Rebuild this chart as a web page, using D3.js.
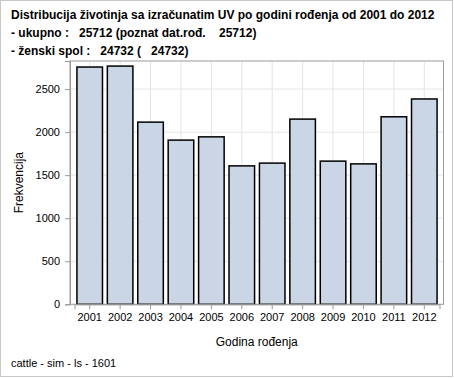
<!DOCTYPE html>
<html><head><meta charset="utf-8">
<script src="https://cdn.jsdelivr.net/npm/d3@7"></script>
<style>body{margin:0;background:#fff}svg{display:block}text{font-family:"Liberation Sans",Arial,sans-serif}</style>
</head><body>
<script>
const years = ["2001","2002","2003","2004","2005","2006","2007","2008","2009","2010","2011","2012"];
const counts = [2756,2767,2116,1907,1945,1608,1640,2151,1663,1631,2178,2385];
const yTicks = [0,500,1000,1500,2000,2500];
const titleLines = [
  "Distribucija životinja sa izračunatim UV po godini rođenja od 2001 do 2012",
  "- ukupno :   25712 (poznat dat.rođ.    25712)",
  "- ženski spol :   24732 (   24732)"
];
const footnote = "cattle - sim - ls - 1601";
const xTitle = "Godina rođenja";
const yTitle = "Frekvencija";

const W = 454, H = 378;
const L = 70, R = 443.5, T = 61, B = 304.3;
const svg = d3.select("body").append("svg").attr("width", W).attr("height", H);
svg.append("rect").attr("x",0.5).attr("y",0.5).attr("width",W-2).attr("height",H-2)
  .attr("fill","#fff").attr("stroke","#c8c8c8");

const x = d3.scaleBand().domain(years).range([L+4.5, R-4]).paddingInner(0.16).paddingOuter(0.08);
const y = d3.scaleLinear().domain([0, 2826]).range([B, T]);

// gridlines
const g = svg.append("g");
g.selectAll(".hg").data(yTicks).join("line")
  .attr("x1",L).attr("x2",R).attr("y1",d=>y(d)).attr("y2",d=>y(d))
  .attr("stroke","#e4e4e4").attr("stroke-width",1);
g.selectAll(".vg").data(years).join("line")
  .attr("x1",d=>x(d)+x.bandwidth()/2).attr("x2",d=>x(d)+x.bandwidth()/2)
  .attr("y1",T).attr("y2",B).attr("stroke","#e4e4e4").attr("stroke-width",1);

// bars
svg.append("g").selectAll("rect").data(years).join("rect")
  .attr("x",d=>x(d)).attr("width",x.bandwidth())
  .attr("y",(d,i)=>y(counts[i])).attr("height",(d,i)=>B-y(counts[i]))
  .attr("fill","#cad5e5").attr("stroke","#000").attr("stroke-width",1.5);

// frame
svg.append("rect").attr("x",L).attr("y",T).attr("width",R-L).attr("height",B-T)
  .attr("fill","none").attr("stroke","#9a9a9a").attr("stroke-width",1);

// axes
const xa = svg.append("g").attr("transform",`translate(0,${B})`)
  .call(d3.axisBottom(x).tickSize(5).tickPadding(4));
const ya = svg.append("g").attr("transform",`translate(${L},0)`)
  .call(d3.axisLeft(y).tickValues(yTicks).tickSize(5).tickPadding(5).tickFormat(d3.format("d")));
[xa,ya].forEach(a=>{
  a.select(".domain").attr("stroke","#9a9a9a");
  a.selectAll(".tick line").attr("stroke","#9a9a9a");
  a.selectAll("text").attr("font-size","11px").attr("fill","#000")
   .style("font-family",'"Liberation Sans",Arial,sans-serif');
});

// titles
svg.append("g").selectAll("text").data(titleLines).join("text")
  .attr("x",11).attr("y",(d,i)=>19+i*18)
  .attr("font-size","12px").attr("font-weight","bold").attr("fill","#000")
  .attr("xml:space","preserve").style("white-space","pre").text(d=>d);

svg.append("text").attr("x",(L+R)/2).attr("y",346).attr("text-anchor","middle")
  .attr("font-size","12px").attr("fill","#000").text(xTitle);
svg.append("text").attr("transform",`translate(23,${(T+B)/2}) rotate(-90)`)
  .attr("text-anchor","middle").attr("font-size","12px").attr("fill","#000").text(yTitle);
svg.append("text").attr("x",11).attr("y",367).attr("font-size","11px").attr("fill","#000").text(footnote);
</script>
</body></html>
